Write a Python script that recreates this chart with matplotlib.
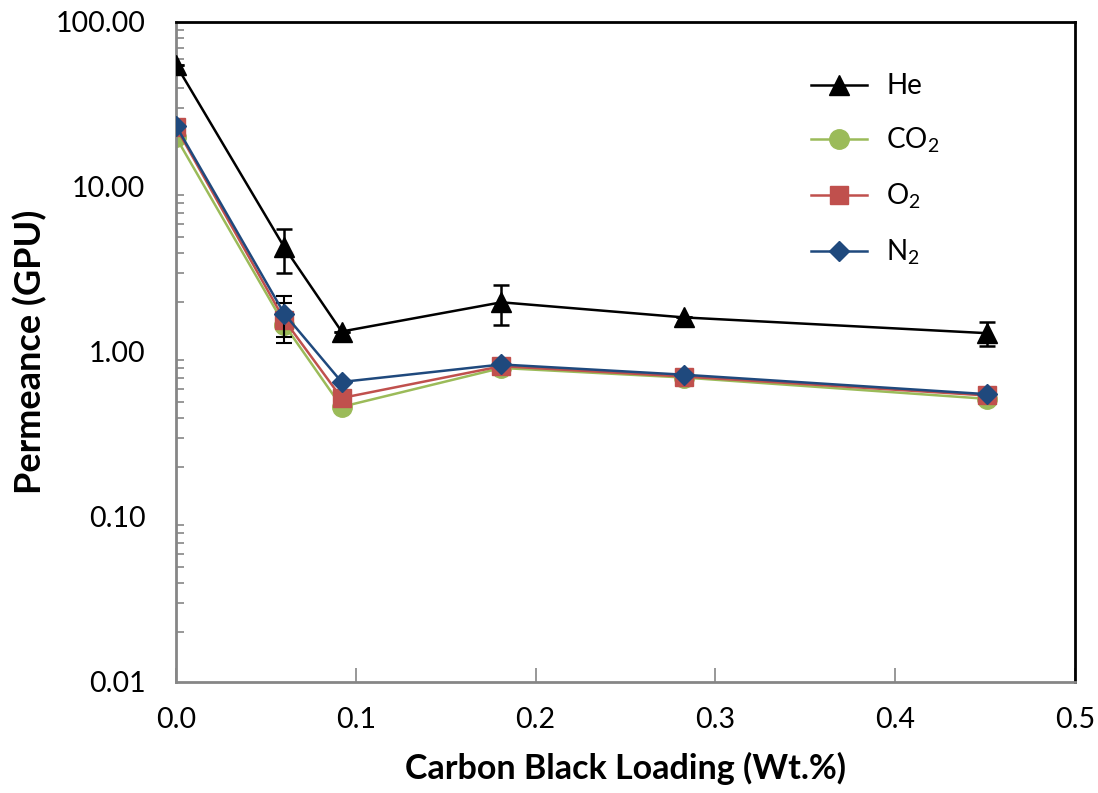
import matplotlib
matplotlib.use("Agg")
import matplotlib.pyplot as plt
from matplotlib.lines import Line2D
from matplotlib.ticker import FixedLocator, LogLocator, NullFormatter, FuncFormatter

plt.rcParams['font.family'] = ['Lato', 'DejaVu Sans']
plt.rcParams['mathtext.default'] = 'regular'

# Carbon black loading (wt.%)
loading = [0.0, 0.0603, 0.0921, 0.181, 0.2825, 0.451]

# Permeance (GPU)
he = [55.0, 4.3, 1.33, 2.0, 1.62, 1.30]
he_err = [0.0, 1.3, 0.0, 0.55, 0.0, 0.22]
co2 = [20.0, 1.46, 0.465, 0.80, 0.70, 0.52]
o2 = [23.0, 1.56, 0.526, 0.82, 0.71, 0.545]
o2_err = [0.0, 0.42, 0.0, 0.0, 0.0, 0.0]
n2 = [23.5, 1.70, 0.658, 0.84, 0.728, 0.555]
n2_err = [0.0, 0.47, 0.0, 0.0, 0.0, 0.0]

x_ticks = [0.0, 0.1, 0.2, 0.3, 0.4, 0.5]
y_ticks = [0.01, 0.1, 1.0, 10.0, 100.0]

styles = {
    'He': dict(color='black', marker='^', ms=14),
    'CO$_2$': dict(color='#9BBB59', marker='o', ms=14),
    'O$_2$': dict(color='#C0504D', marker='s', ms=13),
    'N$_2$': dict(color='#1F497D', marker='D', ms=10),
}

fig = plt.figure(figsize=(10.98, 7.93), dpi=100)
ax = fig.add_axes([0.1603, 0.14, 0.8187, 0.8323])

axis_grey = '#868686'
lw = 1.8

ax.errorbar(loading, he, yerr=he_err, lw=lw, capsize=6, capthick=1.8,
            elinewidth=1.8, zorder=5, **styles['He'])
ax.plot(loading, co2, lw=lw, zorder=2, **styles['CO$_2$'])
ax.errorbar(loading, o2, yerr=o2_err, lw=lw, ecolor='black', capsize=6,
            capthick=1.5, elinewidth=1.5, zorder=3, **styles['O$_2$'])
ax.errorbar(loading, n2, yerr=n2_err, lw=lw, ecolor='black', capsize=6,
            capthick=1.5, elinewidth=1.5, zorder=4, **styles['N$_2$'])

ax.set_yscale('log')
ax.set_xlim(0, 0.5)
ax.set_ylim(0.01, 100)

ax.xaxis.set_major_locator(FixedLocator(x_ticks))
ax.xaxis.set_major_formatter(FuncFormatter(lambda v, p: f'{v:.1f}'))
ax.yaxis.set_major_locator(FixedLocator(y_ticks))
ax.yaxis.set_major_formatter(FuncFormatter(lambda v, p: f'{v:.2f}'))
ax.yaxis.set_minor_locator(LogLocator(base=10, subs=range(2, 10)))
ax.yaxis.set_minor_formatter(NullFormatter())

ax.tick_params(axis='x', which='major', direction='in', length=10, width=1.2,
               color=axis_grey, labelsize=20.5, pad=18, top=False)
ax.tick_params(axis='y', which='major', direction='in', length=0,
               labelsize=20.5, pad=22)
ax.tick_params(axis='y', which='minor', direction='in', length=6, width=1.2,
               color=axis_grey, right=False)

for side in ('left', 'bottom'):
    ax.spines[side].set_color(axis_grey)
    ax.spines[side].set_linewidth(2)
for side in ('top', 'right'):
    ax.spines[side].set_color('black')
    ax.spines[side].set_linewidth(2)

ax.set_xlabel('Carbon Black Loading (Wt.%)', fontsize=24.5, fontweight='bold')
ax.set_ylabel('Permeance (GPU)', fontsize=26, fontweight='bold')
ax.xaxis.set_label_coords(0.5, -0.106)
ax.yaxis.set_label_coords(-0.143, 0.5)

handles = [Line2D([], [], lw=lw, **styles[k]) for k in styles]
ax.legend(handles, list(styles.keys()), loc='upper left',
          bbox_to_anchor=(0.679, 0.96), frameon=False, fontsize=20,
          labelspacing=0.95, handlelength=2.0, handletextpad=0.7)

fig.savefig('out.png', dpi=100)
